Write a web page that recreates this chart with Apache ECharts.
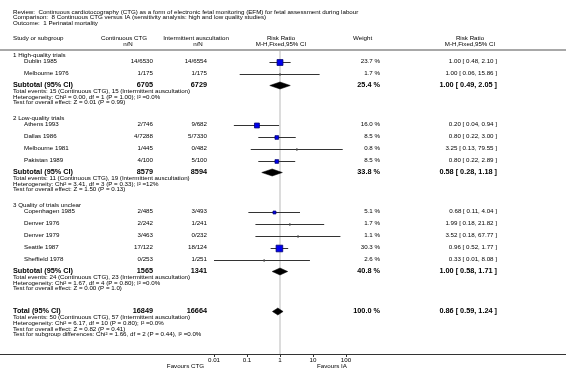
<!DOCTYPE html>
<html>
<head>
<meta charset="utf-8">
<script src="https://cdn.jsdelivr.net/npm/echarts@6/dist/echarts.min.js"></script>
<style>
html, body { margin: 0; padding: 0; background: #fff; }
#chart { width: 566px; height: 372px; }
</style>
</head>
<body>
<div id="chart"></div>
<script>
// header texts
var titleLines = [
  'Review:  Continuous cardiotocography (CTG) as a form of electronic fetal monitoring (EFM) for fetal assessment during labour',
  'Comparison:  8 Continuous CTG versus IA (sensitivity analysis: high and low quality studies)',
  'Outcome:  1 Perinatal mortality'
];

// studies
var groupNames = ['1 High-quality trials', '2 Low-quality trials', '3 Quality of trials unclear'];
var groupOf = [0, 0, 1, 1, 1, 1, 2, 2, 2, 2, 2];
var studyNames = ['Dublin 1985', 'Melbourne 1976', 'Athens 1993', 'Dallas 1986', 'Melbourne 1981', 'Pakistan 1989',
                  'Copenhagen 1985', 'Denver 1976', 'Denver 1979', 'Seattle 1987', 'Sheffield 1978'];
var ctgNN = ['14/6530', '1/175', '2/746', '4/7288', '1/445', '4/100', '2/485', '2/242', '3/463', '17/122', '0/253'];
var iaNN = ['14/6554', '1/175', '9/682', '5/7330', '0/482', '5/100', '3/493', '1/241', '0/232', '18/124', '1/251'];
var weights = [23.7, 1.7, 16.0, 8.5, 0.8, 8.5, 5.1, 1.7, 1.1, 30.3, 2.6];
var rr = [1.00, 1.00, 0.20, 0.80, 3.25, 0.80, 0.68, 1.99, 3.52, 0.96, 0.33];
var rrLo = [0.48, 0.06, 0.04, 0.22, 0.13, 0.22, 0.11, 0.18, 0.18, 0.52, 0.01];
var rrHi = [2.10, 15.86, 0.94, 3.00, 79.55, 2.89, 4.04, 21.82, 67.77, 1.77, 8.08];

// subtotals
var subCtg = [6705, 8579, 1565];
var subIa = [6729, 8594, 1341];
var subWeight = [25.4, 33.8, 40.8];
var subRR = [1.00, 0.58, 1.00];
var subLo = [0.49, 0.28, 0.58];
var subHi = [2.05, 1.18, 1.71];
var subStats = [
  ['Total events: 15 (Continuous CTG), 15 (Intermittent auscultation)',
   'Heterogeneity: Chi\u00b2 = 0.00, df = 1 (P = 1.00); I\u00b2 =0.0%',
   'Test for overall effect: Z = 0.01 (P = 0.99)'],
  ['Total events: 11 (Continuous CTG), 19 (Intermittent auscultation)',
   'Heterogeneity: Chi\u00b2 = 3.41, df = 3 (P = 0.33); I\u00b2 =12%',
   'Test for overall effect: Z = 1.50 (P = 0.13)'],
  ['Total events: 24 (Continuous CTG), 23 (Intermittent auscultation)',
   'Heterogeneity: Chi\u00b2 = 1.67, df = 4 (P = 0.80); I\u00b2 =0.0%',
   'Test for overall effect: Z = 0.00 (P = 1.0)']
];

// overall
var totalCtg = 16849, totalIa = 16664, totalWeight = 100.0;
var totalRR = 0.86, totalLo = 0.59, totalHi = 1.24;
var totalStats = [
  'Total events: 50 (Continuous CTG), 57 (Intermittent auscultation)',
  'Heterogeneity: Chi\u00b2 = 6.17, df = 10 (P = 0.80); I\u00b2 =0.0%',
  'Test for overall effect: Z = 0.82 (P = 0.41)',
  'Test for subgroup differences: Chi\u00b2 = 1.66, df = 2 (P = 0.44), I\u00b2 =0.0%'
];
var axisTicks = [0.01, 0.1, 1, 10, 100];

// ---- layout (pixel rows) ----
var W = 566, AXIS_Y = 354;
var col = { left: 13, study: 24, ctg: 153, ia: 207, plot: 281, wt: 380, rr: 497 };
var font = 'Liberation Sans, Arial, sans-serif';
var FS = 6.2, FB = 7.3;

var texts = [];
function addText(x, y, s, align, bold, size) {
  texts.push({ x: x, y: y, s: s, align: align || 'left', bold: !!bold, size: size || FS });
}
function fmt(v) { return v.toFixed(2); }
function ciText(m, l, h) { return fmt(m) + ' [ ' + fmt(l) + ', ' + fmt(h) + ' ]'; }

titleLines.forEach(function (t, i) { addText(col.left, 12 + i * 5.7, t); });
addText(col.left, 38, 'Study or subgroup');
addText(124, 38, 'Continuous CTG', 'center');
addText(128, 44, 'n/N', 'center');
addText(196, 38, 'Intermittent auscultation', 'center');
addText(198, 44, 'n/N', 'center');
addText(col.plot, 38, 'Risk Ratio', 'center');
addText(col.plot, 44, 'M-H,Fixed,95% CI', 'center');
addText(353, 38, 'Weight');
addText(470, 38, 'Risk Ratio', 'center');
addText(470, 44, 'M-H,Fixed,95% CI', 'center');

var ciRows = [], boxRows = [], diamondRows = [];
var y = 55;
groupNames.forEach(function (g, gi) {
  addText(col.left, y, g);
  y += 6.5;
  groupOf.forEach(function (gg, i) {
    if (gg !== gi) return;
    addText(col.study, y, studyNames[i]);
    addText(col.ctg, y, ctgNN[i], 'right');
    addText(col.ia, y, iaNN[i], 'right');
    addText(col.wt, y, weights[i].toFixed(1) + ' %', 'right');
    addText(col.rr, y, ciText(rr[i], rrLo[i], rrHi[i]), 'right');
    ciRows.push([rrLo[i], rrHi[i], y]);
    boxRows.push([rr[i], y, weights[i]]);
    y += 12;
  });
  y -= 0.8;
  addText(col.left, y, 'Subtotal (95% CI)', 'left', true, FB);
  addText(col.ctg, y, String(subCtg[gi]), 'right', true, FB);
  addText(col.ia, y, String(subIa[gi]), 'right', true, FB);
  addText(col.wt, y, subWeight[gi].toFixed(1) + ' %', 'right', true, FB);
  addText(col.rr, y, ciText(subRR[gi], subLo[gi], subHi[gi]), 'right', true, FB);
  diamondRows.push([subLo[gi], subRR[gi], subHi[gi], y]);
  y += 6.4;
  subStats[gi].forEach(function (s) { addText(col.left, y, s); y += 5.8; });
  y += 9.5;
});
y = y - 9.5 - 5.8 + 22;
addText(col.left, y, 'Total (95% CI)', 'left', true, FB);
addText(col.ctg, y, String(totalCtg), 'right', true, FB);
addText(col.ia, y, String(totalIa), 'right', true, FB);
addText(col.wt, y, totalWeight.toFixed(1) + ' %', 'right', true, FB);
addText(col.rr, y, ciText(totalRR, totalLo, totalHi), 'right', true, FB);
diamondRows.push([totalLo, totalRR, totalHi, y]);
y += 6.3;
totalStats.forEach(function (s) { addText(col.left, y, s); y += 5.9; });

addText(204, 366.5, 'Favours CTG', 'right');
addText(317, 366.5, 'Favours IA', 'left');

var chart = echarts.init(document.getElementById('chart'), null, { renderer: 'canvas' });

var option = {
  animation: false,
  backgroundColor: '#fff',
  grid: [
    { left: 214, right: W - 346, top: 0, bottom: 372 - AXIS_Y },
    { left: 0, right: 0, top: 0, bottom: 372 - AXIS_Y }
  ],
  xAxis: [
    {
      type: 'log', logBase: 10, min: 0.01, max: 100, gridIndex: 0,
      axisLine: { show: false, onZero: false },
      axisTick: { show: true, length: 3, lineStyle: { color: '#333', width: 1 } },
      axisLabel: {
        fontSize: FS, color: '#000', margin: 3, fontFamily: font,
        formatter: function (v) { return v >= 1 ? String(Math.round(v)) : String(parseFloat(v.toPrecision(1))); }
      },
      splitLine: { show: false }
    },
    {
      type: 'value', min: 0, max: W, gridIndex: 1,
      axisLine: { show: true, onZero: false, lineStyle: { color: '#333', width: 1 } },
      axisTick: { show: false }, axisLabel: { show: false }, splitLine: { show: false }
    }
  ],
  yAxis: [
    { type: 'value', min: 0, max: AXIS_Y, inverse: true, gridIndex: 0, show: false },
    { type: 'value', min: 0, max: AXIS_Y, inverse: true, gridIndex: 1, show: false }
  ],
  series: [
    {
      // header rule
      type: 'line', xAxisIndex: 1, yAxisIndex: 1, symbol: 'none', silent: true,
      data: [[0, 50], [W, 50]],
      lineStyle: { color: '#a8a8a8', width: 2 }, z: 1
    },
    {
      // line of no effect
      type: 'line', xAxisIndex: 0, yAxisIndex: 0, symbol: 'none', silent: true,
      data: [[1, 51], [1, AXIS_Y]],
      lineStyle: { color: '#dcdcdc', width: 2 }, z: 1
    },
    {
      type: 'custom', xAxisIndex: 0, yAxisIndex: 0, silent: true, clip: false, z: 3,
      encode: { x: [0, 1], y: 2 },
      data: ciRows,
      renderItem: function (params, api) {
        var a = api.coord([api.value(0), api.value(2)]);
        var b = api.coord([api.value(1), api.value(2)]);
        var yy = Math.round(a[1]) + 0.5;
        return { type: 'line', shape: { x1: a[0], y1: yy, x2: b[0], y2: yy },
                 style: { stroke: '#333', lineWidth: 1 } };
      }
    },
    {
      type: 'custom', xAxisIndex: 0, yAxisIndex: 0, silent: true, clip: false, z: 4,
      encode: { x: 0, y: 1 },
      data: boxRows,
      renderItem: function (params, api) {
        var p = api.coord([api.value(0), api.value(1)]);
        var w = api.value(2);
        var yy = Math.round(p[1]) + 0.5;
        if (w < 3) {
          return { type: 'line', shape: { x1: p[0], y1: yy - 1.5, x2: p[0], y2: yy + 1.5 },
                   style: { stroke: '#555', lineWidth: 1 } };
        }
        var s = 1.15 * Math.sqrt(w) + 0.3;
        return { type: 'rect', shape: { x: p[0] - s / 2, y: yy - s / 2, width: s, height: s },
                 style: { fill: '#0000f0', stroke: '#000070', lineWidth: 0.8 } };
      }
    },
    {
      type: 'custom', xAxisIndex: 0, yAxisIndex: 0, silent: true, clip: false, z: 4,
      encode: { x: [0, 1, 2], y: 3 },
      data: diamondRows,
      renderItem: function (params, api) {
        var l = api.coord([api.value(0), api.value(3)]);
        var m = api.coord([api.value(1), api.value(3)]);
        var h = api.coord([api.value(2), api.value(3)]);
        var yy = Math.round(m[1]) + 0.5, d = 3.5;
        return { type: 'polygon',
                 shape: { points: [[l[0], yy], [m[0], yy - d], [h[0], yy], [m[0], yy + d]] },
                 style: { fill: '#000', stroke: '#000', lineWidth: 0.5 } };
      }
    },
    {
      type: 'custom', xAxisIndex: 1, yAxisIndex: 1, silent: true, clip: false, z: 5,
      encode: { x: 0, y: 1 },
      data: texts.map(function (t) { return [t.x, t.y]; }),
      renderItem: function (params, api) {
        var t = texts[params.dataIndex];
        var p = api.coord([t.x, t.y]);
        return { type: 'text', x: p[0], y: p[1],
                 style: { text: t.s, align: t.align, verticalAlign: 'middle', fill: '#000',
                          fontSize: t.size, fontWeight: t.bold ? 'bold' : 'normal', fontFamily: font } };
      }
    }
  ]
};
chart.setOption(option);
</script>
</body>
</html>
